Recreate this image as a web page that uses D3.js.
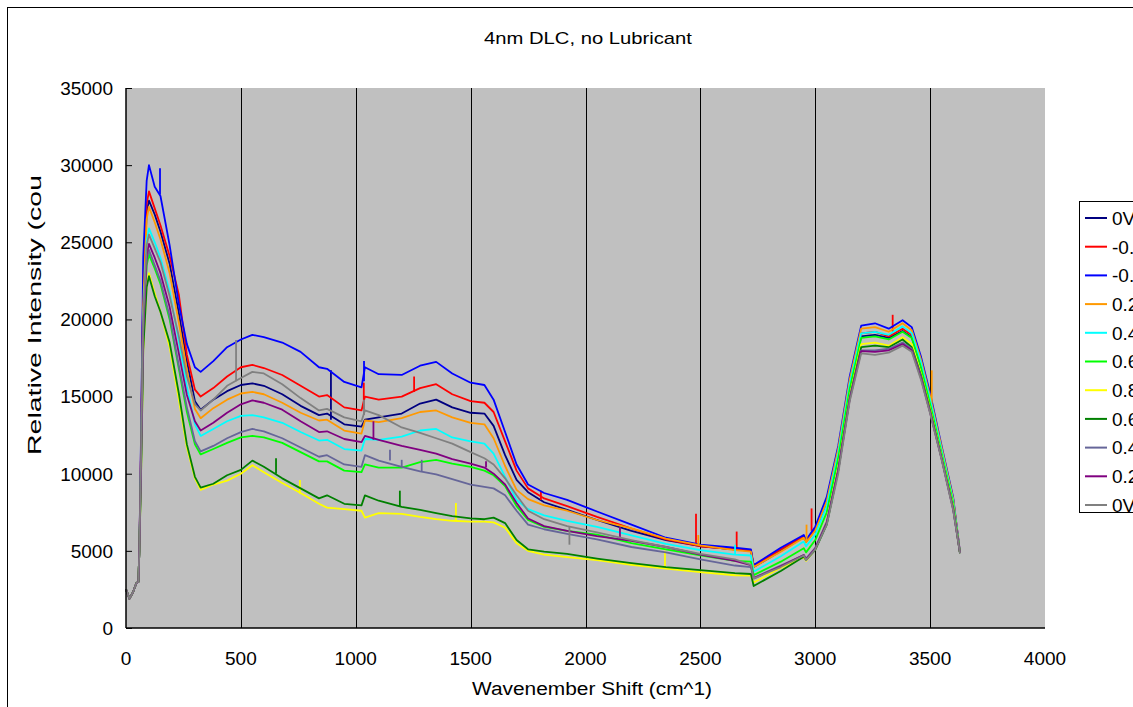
<!DOCTYPE html>
<html>
<head>
<meta charset="utf-8">
<script src="https://cdn.jsdelivr.net/npm/d3@7"></script>
<style>
	body { margin: 0; background: #fff; }
	svg { display: block; font-family: "Liberation Sans", Arial, sans-serif; }
</style>
</head>
<body>
<div id="chart"></div>
<script>
// wavenumber grid (cm^-1) shared by all series
const waveNumbers = [0, 15, 30, 45, 54, 58, 65, 75, 90, 100,
	125, 150, 190, 230, 265, 300, 325, 380, 440, 500,
	550, 600, 680, 760, 840, 875, 950, 1025, 1040, 1100,
	1200, 1280, 1350, 1420, 1500, 1560, 1600, 1650, 1700, 1750,
	1820, 1920, 2050, 2200, 2350, 2500, 2650, 2720, 2732, 2850,
	2950, 2960, 3000, 3050, 3100, 3150, 3200, 3260, 3320, 3380,
	3420, 3460, 3500, 3550, 3600, 3630];

const seriesNames = ["0V", "-0.2V", "-0.4V", "0.2V", "0.4V", "0.6V", "0.8V", "0.6V", "0.4V", "0.2V", "0V"];
const seriesColors = ["#000080", "#ff0000", "#0000ff", "#ff9900", "#00ffff", "#00ff00", "#ffff00", "#008000", "#666699", "#800080", "#808080"];

const navy0V = [2500, 1900, 2300, 2900, 3000, 5000, 11000, 21500, 27000, 27700,
	26800, 25700, 23600, 20400, 17300, 14700, 14150, 14800, 15350, 15750,
	15850, 15700, 15150, 14400, 13800, 13900, 13200, 13050, 13500, 13650,
	13900, 14550, 14800, 14300, 13950, 13900, 13100, 11200, 9600, 8800,
	8150, 7650, 7000, 6300, 5700, 5300, 5100, 5000, 3950, 5000,
	5900, 5600, 6350, 8000, 11300, 15700, 18900, 19000, 18800, 19250,
	18850, 17000, 14700, 11400, 8200, 4850];
const redM02 = [2500, 1900, 2300, 2900, 3000, 5000, 11500, 22500, 27500, 28300,
	27200, 26100, 24100, 21600, 17700, 15450, 15000, 15550, 16300, 16900,
	17050, 16850, 16400, 15700, 15000, 15100, 14300, 14100, 15000, 14800,
	15000, 15550, 15800, 15150, 14700, 14600, 14000, 12100, 10200, 9050,
	8400, 7900, 7200, 6450, 5750, 5300, 5100, 5050, 4000, 5100,
	5950, 5650, 6450, 8200, 11500, 15900, 19100, 19200, 18900, 19400,
	19000, 17200, 14900, 11600, 8400, 4900];
const blueM04 = [2500, 1900, 2300, 2900, 3000, 5000, 12000, 24000, 29000, 30000,
	28600, 28000, 24800, 21000, 18400, 16900, 16600, 17300, 18200, 18700,
	19000, 18850, 18500, 17900, 16900, 16800, 15950, 15600, 16900, 16450,
	16400, 17000, 17250, 16500, 15900, 15750, 14800, 12700, 10600, 9300,
	8750, 8300, 7550, 6700, 5850, 5400, 5200, 5100, 4080, 5200,
	6030, 5700, 6570, 8500, 11800, 16300, 19600, 19750, 19400, 19950,
	19500, 17600, 15200, 11800, 8500, 4900];
const orange02 = [2500, 1900, 2300, 2900, 3000, 5000, 11000, 21000, 26500, 27300,
	26300, 25200, 23000, 19800, 16700, 14200, 13600, 14250, 14800, 15200,
	15300, 15150, 14600, 13950, 13450, 13500, 12800, 12600, 13450, 13350,
	13600, 14000, 14100, 13650, 13300, 13200, 12300, 10500, 8950, 8350,
	7950, 7600, 7000, 6450, 5800, 5350, 5050, 4950, 3950, 4950,
	5850, 5550, 6300, 8200, 11600, 16100, 19400, 19500, 19200, 19750,
	19300, 17400, 15000, 11700, 8400, 4850];
const cyan04 = [2500, 1900, 2300, 2900, 3000, 5000, 10500, 20000, 25100, 25900,
	25000, 24000, 21800, 18600, 15600, 13200, 12450, 12900, 13400, 13750,
	13800, 13650, 13300, 12700, 12150, 12200, 11600, 11500, 12250, 12200,
	12400, 12800, 12900, 12350, 12100, 11950, 11300, 9800, 8300, 7700,
	7300, 6950, 6550, 6000, 5450, 5050, 4750, 4700, 3650, 4650,
	5600, 5300, 6050, 7900, 11300, 15800, 19100, 19200, 19000, 19550,
	19100, 17200, 14800, 11500, 8250, 4850];
const lime06 = [2500, 1900, 2300, 2900, 3000, 5000, 10000, 19000, 23500, 24200,
	23300, 22300, 20000, 16800, 14000, 11900, 11250, 11600, 12000, 12350,
	12450, 12350, 12000, 11400, 10800, 10800, 10200, 10100, 10600, 10400,
	10400, 10750, 10900, 10650, 10450, 10200, 9900, 9200, 7900, 7000,
	6550, 6300, 6050, 5500, 5100, 4700, 4350, 4300, 3430, 4300,
	5170, 4900, 5700, 7500, 11000, 15500, 18800, 18900, 18700, 19200,
	18800, 16900, 14500, 11300, 8100, 4850];
const yellow08 = [2500, 1900, 2300, 2900, 3000, 5000, 9500, 18000, 22300, 23000,
	21700, 20500, 18200, 14800, 11700, 9700, 8950, 9300, 9550, 10000,
	10550, 10100, 9400, 8750, 8050, 7800, 7700, 7600, 7150, 7450,
	7400, 7200, 7050, 6950, 6900, 6900, 6850, 6500, 5500, 5000,
	4750, 4600, 4400, 4100, 3850, 3620, 3420, 3400, 2950, 3900,
	4600, 4350, 5100, 6900, 10400, 15000, 18400, 18500, 18300, 18850,
	18400, 16500, 14200, 11100, 7900, 4850];
const green06 = [2500, 1900, 2300, 2900, 3000, 5000, 9500, 18000, 22100, 22800,
	21500, 20500, 18500, 15200, 11900, 9800, 9100, 9350, 9900, 10250,
	10850, 10450, 9700, 9050, 8400, 8600, 8050, 7950, 8600, 8250,
	7850, 7650, 7450, 7250, 7100, 7050, 7150, 6800, 5700, 5100,
	4950, 4800, 4500, 4200, 3950, 3750, 3560, 3500, 2720, 3700,
	4620, 4410, 5060, 6700, 10200, 14900, 18200, 18300, 18200, 18700,
	18200, 16400, 14100, 11000, 7800, 4850];
const slate04 = [2500, 1900, 2300, 2900, 3000, 5000, 10000, 19200, 23800, 24500,
	23500, 22500, 20200, 17000, 14300, 12100, 11450, 11800, 12300, 12700,
	12900, 12750, 12300, 11700, 11100, 11200, 10600, 10450, 11200, 10850,
	10450, 10150, 9950, 9650, 9300, 9150, 9050, 8600, 7600, 6700,
	6400, 6100, 5750, 5250, 4900, 4450, 4050, 3950, 3250, 4050,
	4730, 4500, 5200, 6900, 10300, 14900, 18000, 18000, 18100, 18500,
	18100, 16300, 14000, 11000, 7750, 4850];
const purple02 = [2500, 1900, 2300, 2900, 3000, 5000, 10300, 19500, 24200, 24900,
	24000, 23000, 20800, 17800, 15100, 13400, 12800, 13300, 13950, 14500,
	14750, 14600, 14150, 13400, 12700, 12750, 12250, 12050, 12450, 12200,
	11800, 11550, 11300, 10950, 10650, 10400, 10000, 9300, 8100, 7100,
	6600, 6300, 5950, 5650, 5250, 4750, 4350, 4080, 3220, 4000,
	4730, 4450, 5150, 6800, 10200, 14800, 17950, 17900, 18000, 18400,
	18000, 16200, 13950, 10950, 7700, 4850];
const gray0V = [2500, 1900, 2300, 2900, 3000, 5000, 10500, 20000, 24800, 25500,
	24600, 23700, 21500, 18900, 16300, 14500, 14100, 14800, 15700, 16200,
	16600, 16500, 15800, 14900, 14100, 14200, 13650, 13400, 14100, 13800,
	13000, 12650, 12300, 11950, 11400, 11000, 10600, 9700, 8600, 7600,
	7050, 6600, 6200, 5700, 5250, 4800, 4450, 4100, 3200, 3950,
	4700, 4400, 5100, 6700, 10000, 14700, 17800, 17700, 17850, 18300,
	17900, 16100, 13900, 10900, 7650, 4850];

// narrow cosmic-ray spikes: [series index, wavenumber, base, peak]
const spikes = [
	[2, 148, 28100, 29800], [2, 1036, 16000, 17300],
	[0, 892, 13500, 16700],
	[1, 1035, 14200, 15900], [1, 1254, 15300, 16300], [1, 1806, 8300, 8900],
	[1, 2481, 5400, 7400], [1, 2658, 5100, 6250], [1, 2984, 6300, 7750], [1, 3337, 19200, 20300],
	[3, 2491, 5350, 6030], [3, 2962, 5600, 6700], [3, 3507, 14600, 16700],
	[4, 2651, 4750, 5400],
	[6, 757, 8700, 9600], [6, 1436, 6950, 8100], [6, 2346, 3850, 5000],
	[7, 653, 10000, 11000], [7, 1192, 7860, 8900],
	[8, 1149, 10850, 11550], [8, 1200, 10450, 10900], [8, 1287, 10150, 10900],
	[9, 1077, 12200, 13400], [9, 1567, 10400, 10800], [9, 2150, 5800, 6550],
	[10, 479, 16000, 18660], [10, 1036, 13800, 14800], [10, 1930, 6600, 5400],
];

const xTicks = [0, 500, 1000, 1500, 2000, 2500, 3000, 3500, 4000];
const yTicks = [0, 5000, 10000, 15000, 20000, 25000, 30000, 35000];

const allSeries = [navy0V, redM02, blueM04, orange02, cyan04, lime06, yellow08, green06, slate04, purple02, gray0V];

const size = { w: 1133, h: 707 };
const plot = { l: 126, t: 88, r: 1045, b: 628 };

const svg = d3
	.select("#chart")
	.append("svg")
	.attr("width", size.w)
	.attr("height", size.h);

// chart area frame
svg.append("rect")
	.attr("x", 7.5).attr("y", 7.5)
	.attr("width", 1300).attr("height", 900)
	.attr("fill", "#fff").attr("stroke", "#000");

const x = d3.scaleLinear().domain([0, 4000]).range([plot.l, plot.r]);
const y = d3.scaleLinear().domain([0, 35000]).range([plot.b, plot.t]);

svg.append("rect")
	.attr("x", plot.l).attr("y", plot.t)
	.attr("width", plot.r - plot.l).attr("height", plot.b - plot.t)
	.attr("fill", "#c0c0c0");

// vertical gridlines
svg.append("g")
	.selectAll("line")
	.data(xTicks.slice(1, -1))
	.join("line")
	.attr("x1", (d) => Math.round(x(d)) + 0.5)
	.attr("x2", (d) => Math.round(x(d)) + 0.5)
	.attr("y1", plot.t).attr("y2", plot.b)
	.attr("stroke", "#000").attr("stroke-width", 1);

const line = d3.line()
	.x((d, i) => x(waveNumbers[i]))
	.y((d) => y(d));

const linesG = svg.append("g").attr("fill", "none").attr("stroke-width", 1.8).attr("stroke-linejoin", "round");
allSeries.forEach((s, i) => {
	linesG.append("path")
		.attr("d", line(s))
		.attr("stroke", seriesColors[i]);
	linesG.selectAll(null)
		.data(spikes.filter((d) => d[0] === i))
		.join("line")
		.attr("x1", (d) => x(d[1])).attr("x2", (d) => x(d[1]))
		.attr("y1", (d) => y(d[2])).attr("y2", (d) => y(d[3]))
		.attr("stroke", seriesColors[i]);
});

// axes
const yAxis = svg.append("g")
	.attr("transform", `translate(${plot.l},0)`)
	.call(d3.axisRight(y).tickValues(yTicks).tickSize(6).tickFormat(""));
const xAxis = svg.append("g")
	.attr("transform", `translate(0,${plot.b})`)
	.call(d3.axisTop(x).tickValues(xTicks).tickSize(0).tickFormat(""));
[yAxis, xAxis].forEach((a) => {
	a.select(".domain").attr("stroke", "#000").attr("stroke-width", 1.5);
	a.selectAll(".tick line").attr("stroke", "#000");
});
yAxis.select(".domain").attr("d", `M0,${plot.t}V${plot.b}`);
xAxis.select(".domain").attr("d", `M${plot.l},0H${plot.r}`);

svg.append("g")
	.selectAll("text")
	.data(yTicks)
	.join("text")
	.attr("x", 113).attr("y", (d) => y(d))
	.attr("dy", "0.36em")
	.attr("text-anchor", "end")
	.attr("font-size", 19)
	.text((d) => d);

svg.append("g")
	.selectAll("text")
	.data(xTicks)
	.join("text")
	.attr("x", (d) => x(d)).attr("y", 665)
	.attr("text-anchor", "middle")
	.attr("font-size", 19)
	.text((d) => d);

svg.append("text")
	.attr("x", 588).attr("y", 44)
	.attr("text-anchor", "middle")
	.attr("font-size", 17)
	.attr("textLength", 208)
	.attr("lengthAdjust", "spacingAndGlyphs")
	.text("4nm DLC, no Lubricant");

svg.append("text")
	.attr("x", 592).attr("y", 695)
	.attr("text-anchor", "middle")
	.attr("font-size", 18)
	.attr("textLength", 240)
	.attr("lengthAdjust", "spacingAndGlyphs")
	.text("Wavenember Shift (cm^1)");

svg.append("text")
	.attr("transform", "translate(41,455) rotate(-90)")
	.attr("font-size", 18)
	.attr("textLength", 280)
	.attr("lengthAdjust", "spacingAndGlyphs")
	.text("Relative Intensity (cou");

// legend
const legend = svg.append("g");
legend.append("rect")
	.attr("x", 1079.5).attr("y", 201.5)
	.attr("width", 100).attr("height", 311)
	.attr("fill", "#fff").attr("stroke", "#000");
const item = legend.selectAll("g")
	.data(seriesNames)
	.join("g")
	.attr("transform", (d, i) => `translate(0,${218 + i * 28.7})`);
item.append("line")
	.attr("x1", 1085).attr("x2", 1107)
	.attr("stroke", (d, i) => seriesColors[i])
	.attr("stroke-width", 2);
item.append("text")
	.attr("x", 1112).attr("dy", "0.36em")
	.attr("font-size", 19)
	.text((d) => d);
</script>
</body>
</html>
